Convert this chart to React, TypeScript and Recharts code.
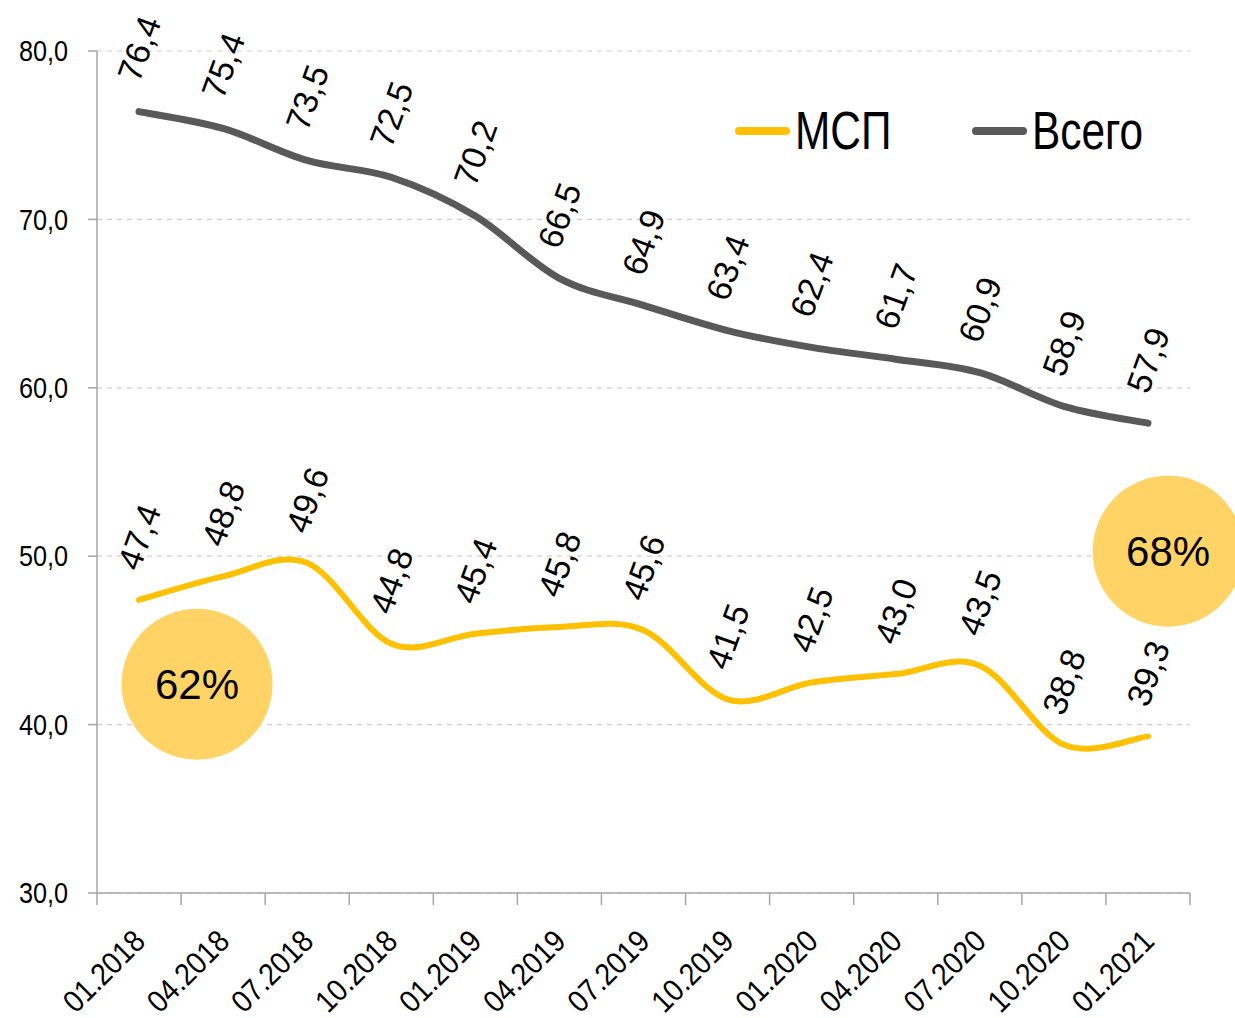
import React from 'react';
import {
  CartesianGrid,
  LabelList,
  Legend,
  Line,
  LineChart,
  ReferenceDot,
  XAxis,
  YAxis,
} from 'recharts';

const categories = [
  '01.2018', '04.2018', '07.2018', '10.2018', '01.2019', '04.2019', '07.2019',
  '10.2019', '01.2020', '04.2020', '07.2020', '10.2020', '01.2021',
];
const mspValues = [47.4, 48.8, 49.6, 44.8, 45.4, 45.8, 45.6, 41.5, 42.5, 43.0, 43.5, 38.8, 39.3];
const totalValues = [76.4, 75.4, 73.5, 72.5, 70.2, 66.5, 64.9, 63.4, 62.4, 61.7, 60.9, 58.9, 57.9];
const yTicks = [30, 40, 50, 60, 70, 80];

// share bubbles: anchored on a category, nudged by a fraction of a slot
const shareNotes = [
  { text: '62%', category: '04.2018', nudge: -0.31, level: 42.4 },
  { text: '68%', category: '01.2021', nudge: 0.24, level: 50.3 },
];

const data = categories.map((c, i) => ({ category: c, msp: mspValues[i], total: totalValues[i] }));

const WIDTH = 1235;
const HEIGHT = 1018;
const MARGIN = { top: 51, right: 45, left: 0, bottom: 0 };
const Y_AXIS_W = 97;
const SLOT = (WIDTH - MARGIN.right - Y_AXIS_W) / categories.length;

const FONT = "'Liberation Sans', Arial, sans-serif";
const YELLOW = '#FFC000';
const GREY = '#595959';
const AXIS = '#A6A6A6';

const fmt = (v: number) => v.toFixed(1).replace('.', ',');

// Excel-style smoothing (Catmull-Rom through the points)
function excelSmooth(context: any) {
  let pts: [number, number][] = [];
  return {
    areaStart() {},
    areaEnd() {},
    lineStart() {
      pts = [];
    },
    point(x: number, y: number) {
      pts.push([+x, +y]);
    },
    lineEnd() {
      const n = pts.length;
      if (!n) return;
      context.moveTo(pts[0][0], pts[0][1]);
      for (let i = 0; i < n - 1; i++) {
        const p0 = pts[i - 1] || pts[i];
        const p1 = pts[i];
        const p2 = pts[i + 1];
        const p3 = pts[i + 2] || p2;
        context.bezierCurveTo(
          p1[0] + (p2[0] - p0[0]) / 6,
          p1[1] + (p2[1] - p0[1]) / 6,
          p2[0] - (p3[0] - p1[0]) / 6,
          p2[1] - (p3[1] - p1[1]) / 6,
          p2[0],
          p2[1],
        );
      }
    },
  };
}

function ValueLabel(props: any) {
  const { x, y, value } = props;
  const cy = y - 63;
  return (
    <text
      x={x}
      y={cy}
      transform={`rotate(-70, ${x}, ${cy})`}
      textAnchor="middle"
      dominantBaseline="central"
      fontFamily={FONT}
      fontSize={34}
      fill="#000"
    >
      {fmt(value)}
    </text>
  );
}

function ValueTick(props: any) {
  const { x, y, payload } = props;
  return (
    <text
      transform={`translate(${x}, ${y}) scale(0.87, 1)`}
      textAnchor="end"
      dominantBaseline="central"
      fontFamily={FONT}
      fontSize={29}
      fill="#000"
    >
      {fmt(payload.value)}
    </text>
  );
}

function CategoryTick(props: any) {
  const { x, y, payload, index } = props;
  const half = payload.offset ?? 0;
  const isLast = index === categories.length - 1;
  const tx = x + 8;
  const ty = y + 50;
  return (
    <g>
      <line x1={x - half} x2={x - half} y1={y} y2={y + 12} stroke={AXIS} strokeWidth={1.5} />
      {isLast && (
        <line x1={x + half} x2={x + half} y1={y} y2={y + 12} stroke={AXIS} strokeWidth={1.5} />
      )}
      <text
        transform={`translate(${tx}, ${ty}) rotate(-45) scale(0.9, 1)`}
        textAnchor="end"
        fontFamily={FONT}
        fontSize={31}
        fill="#000"
      >
        {payload.value}
      </text>
    </g>
  );
}

function ShareBubble(props: any) {
  const { cx, cy, r, nudge, text } = props;
  const x = cx + nudge * SLOT;
  return (
    <g>
      <circle cx={x} cy={cy} r={r} fill="#FFD365" />
      <text x={x} y={cy} textAnchor="middle" dominantBaseline="central" fontFamily={FONT} fontSize={42} fill="#000">
        {text}
      </text>
    </g>
  );
}

function LegendContent() {
  const items = [
    { label: 'МСП', color: YELLOW, left: 0 },
    { label: 'Всего', color: GREY, left: 237 },
  ];
  return (
    <div style={{ position: 'relative', width: 420, height: 52, fontFamily: FONT, fontSize: 53, lineHeight: '52px' }}>
      {items.map((it) => (
        <div key={it.label} style={{ position: 'absolute', left: it.left, top: 0, height: 52, display: 'flex', alignItems: 'center' }}>
          <span style={{ display: 'inline-block', width: 55, height: 8, borderRadius: 4, background: it.color, marginRight: 5 }} />
          <span style={{ display: 'inline-block', color: '#000', transform: 'scaleX(0.8)', transformOrigin: 'left center', whiteSpace: 'nowrap' }}>
            {it.label}
          </span>
        </div>
      ))}
    </div>
  );
}

export default function App() {
  return (
    <div style={{ position: 'absolute', left: 0, top: 0, width: WIDTH, height: HEIGHT, background: '#fff', overflow: 'hidden' }}>
      <LineChart width={WIDTH} height={HEIGHT} data={data} margin={MARGIN}>
        <CartesianGrid vertical={false} stroke="#D0D0D0" strokeDasharray="5 5" strokeWidth={1.2} />
        <XAxis
          dataKey="category"
          scale="band"
          interval={0}
          height={125}
          tickSize={0}
          tickMargin={0}
          tickLine={false}
          axisLine={{ stroke: AXIS, strokeWidth: 1.5 }}
          tick={<CategoryTick />}
        />
        <YAxis
          width={Y_AXIS_W}
          domain={[30, 80]}
          ticks={yTicks}
          interval={0}
          tickSize={9}
          tickMargin={20}
          axisLine={{ stroke: AXIS, strokeWidth: 1.5 }}
          tickLine={{ stroke: AXIS, strokeWidth: 1.5 }}
          tick={<ValueTick />}
        />
        <Legend
          layout="horizontal"
          verticalAlign="middle"
          align="center"
          content={<LegendContent />}
          wrapperStyle={{ top: 105, left: 735, width: 420, height: 52 }}
        />
        {shareNotes.map((n) => (
          <ReferenceDot
            key={n.text}
            x={n.category}
            y={n.level}
            r={75.5}
            ifOverflow="visible"
            shape={(p: any) => <ShareBubble {...p} nudge={n.nudge} text={n.text} />}
          />
        ))}
        <Line
          dataKey="msp"
          name="МСП"
          type={excelSmooth as any}
          stroke={YELLOW}
          strokeWidth={6}
          strokeLinecap="round"
          dot={false}
          activeDot={false}
          isAnimationActive={false}
        >
          <LabelList dataKey="msp" content={<ValueLabel />} />
        </Line>
        <Line
          dataKey="total"
          name="Всего"
          type={excelSmooth as any}
          stroke={GREY}
          strokeWidth={7}
          strokeLinecap="round"
          dot={false}
          activeDot={false}
          isAnimationActive={false}
        >
          <LabelList dataKey="total" content={<ValueLabel />} />
        </Line>
      </LineChart>
    </div>
  );
}
